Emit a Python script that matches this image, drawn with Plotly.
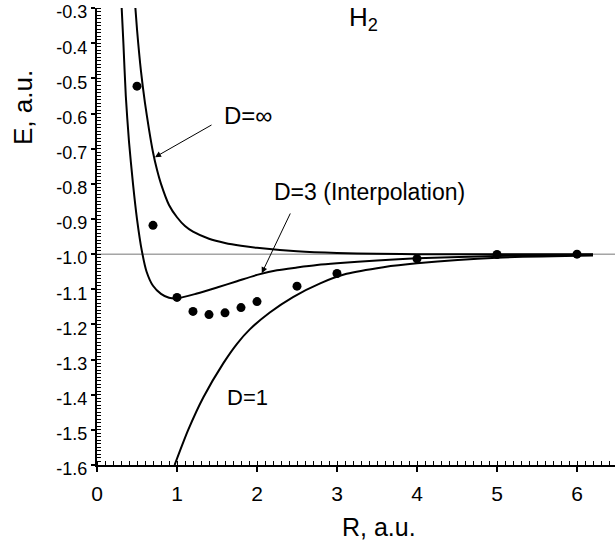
import plotly.graph_objects as go

# --- data ---

# exact points (dots)
dot_r = [0.5, 0.7, 1.0, 1.2, 1.4, 1.6, 1.8, 2.0, 2.5, 3.0, 4.0, 5.0, 6.0]
dot_e = [-0.522, -0.918, -1.123, -1.163, -1.172, -1.167, -1.152, -1.135,
         -1.091, -1.055, -1.013, -1.001, -1.0]

# D = infinity curve
dinf_r = [0.47, 0.5, 0.55, 0.6, 0.65, 0.7, 0.75, 0.8, 0.9, 1.0, 1.1, 1.2,
          1.4, 1.6, 1.8, 2.0, 2.5, 3.0, 3.5, 4.0, 6.2]
dinf_e = [-0.27, -0.36, -0.48, -0.57, -0.645, -0.71, -0.76, -0.80, -0.86,
          -0.895, -0.92, -0.936, -0.956, -0.968, -0.976, -0.982, -0.992,
          -0.997, -0.999, -1.0, -1.0]

# D = 3 (interpolation) curve
d3_r = [0.30, 0.33, 0.36, 0.40, 0.45, 0.50, 0.56, 0.62, 0.7, 0.8, 0.9, 1.0,
        1.25, 1.5, 1.75, 2.0, 2.25, 2.5, 2.75, 3.0, 3.5, 4.0, 5.0, 6.2]
d3_e = [-0.26, -0.40, -0.55, -0.68, -0.80, -0.90, -0.99, -1.05, -1.09, -1.113,
        -1.124, -1.126, -1.112, -1.095, -1.077, -1.059, -1.046, -1.038, -1.031,
        -1.026, -1.018, -1.012, -1.005, -1.002]

# D = 1 curve
d1_r = [0.97, 1.14, 1.33, 1.58, 1.75, 1.91, 2.16, 2.45, 2.79, 3.12, 3.58,
        4.0, 5.0, 6.2]
d1_e = [-1.60, -1.50, -1.407, -1.31, -1.255, -1.214, -1.166, -1.122, -1.083,
        -1.056, -1.037, -1.026, -1.01, -1.004]

x_ticks = [0, 1, 2, 3, 4, 5, 6]
y_ticks = [-0.3, -0.4, -0.5, -0.6, -0.7, -0.8, -0.9, -1.0,
           -1.1, -1.2, -1.3, -1.4, -1.5, -1.6]
y_labels = [f"{v:.1f}" for v in y_ticks]   # plain hyphen minus like the original

SANS = "Liberation Sans, Arial"
BLACK = "black"

# plot-area pixel box, for placing the axis titles
L, R_, T, B = 97, 615, 8, 465


def paper_xy(px, py):
    return (px - L) / (R_ - L), (B - py) / (B - T)


line = dict(color=BLACK, width=2, shape="spline", smoothing=0.7)

fig = go.Figure()

# reference line E = -1
fig.add_trace(go.Scatter(x=[0, 6.475], y=[-1.0, -1.0], mode="lines",
                         line=dict(color="#777777", width=1), hoverinfo="skip"))

fig.add_trace(go.Scatter(x=dinf_r, y=dinf_e, mode="lines", line=line))
fig.add_trace(go.Scatter(x=d3_r, y=d3_e, mode="lines", line=line))
fig.add_trace(go.Scatter(x=d1_r, y=d1_e, mode="lines", line=line))
fig.add_trace(go.Scatter(x=dot_r, y=dot_e, mode="markers",
                         marker=dict(color=BLACK, size=9)))

# labels inside the plot
fig.add_annotation(x=3.125, y=-0.33, text="H<sub>2</sub>", showarrow=False,
                   xanchor="left", font=dict(family=SANS, size=26, color=BLACK))
fig.add_annotation(x=1.5625, y=-0.604, text="D=∞", showarrow=False,
                   xanchor="left", font=dict(family=SANS, size=24, color=BLACK))
fig.add_annotation(x=2.1875, y=-0.823, text="D=3 (Interpolation)", showarrow=False,
                   xanchor="left", font=dict(family=SANS, size=23, color=BLACK))
fig.add_annotation(x=1.6, y=-1.407, text="D=1", showarrow=False,
                   xanchor="left", font=dict(family=SANS, size=22, color=BLACK))

# pointer arrows
for tip, tail in [((0.725, -0.724), (1.45, -0.63)),
                  ((2.06, -1.054), (2.425, -0.88))]:
    fig.add_annotation(x=tip[0], y=tip[1], ax=tail[0], ay=tail[1],
                       xref="x", yref="y", axref="x", ayref="y", text="",
                       showarrow=True, arrowhead=2, arrowsize=1.2,
                       arrowwidth=1, arrowcolor=BLACK)

# axis titles (off-centre in the original)
tx, ty = paper_xy(379, 527)
fig.add_annotation(x=tx, y=ty, xref="paper", yref="paper", text="R, a.u.",
                   xanchor="center", yanchor="middle", showarrow=False,
                   font=dict(family=SANS, size=25, color=BLACK))
tx, ty = paper_xy(23, 108)
fig.add_annotation(x=tx, y=ty, xref="paper", yref="paper", text="E, a.u.",
                   xanchor="center", yanchor="middle", textangle=-90,
                   showarrow=False, font=dict(family=SANS, size=26, color=BLACK))

fig.update_layout(
    width=615, height=547,
    margin=dict(l=L, r=615 - R_, t=T, b=547 - B),
    plot_bgcolor="white", paper_bgcolor="white",
    showlegend=False,
    xaxis=dict(
        range=[0, 6.475], tickvals=x_ticks, ticks="outside", ticklen=5,
        tickwidth=1.5, tickcolor=BLACK, showgrid=False, zeroline=False,
        showline=True, linecolor=BLACK, linewidth=2, automargin=False,
        ticklabelstandoff=4,
        tickfont=dict(family=SANS, size=21, color=BLACK),
        minor=dict(ticks="inside", dtick=0.1, ticklen=4, tickcolor=BLACK,
                   tickwidth=1, showgrid=False),
    ),
    yaxis=dict(
        range=[-1.6, -0.2995], tickvals=y_ticks, ticktext=y_labels,
        ticks="outside", ticklen=4, tickwidth=1.5, tickcolor=BLACK,
        showgrid=False, zeroline=False, showline=True, linecolor=BLACK,
        linewidth=2, automargin=False, ticklabeloverflow="allow",
        ticklabelshift=4,
        tickfont=dict(family=SANS, size=18, color=BLACK),
        minor=dict(ticks="inside", dtick=0.01, ticklen=4, tickcolor=BLACK,
                   tickwidth=1, showgrid=False),
    ),
)

# drop the browser's default 8px page margin so the figure sits at (0, 0)
fig.write_html("out.html", config={"displayModeBar": False},
               post_script="document.body.style.margin='0';")
